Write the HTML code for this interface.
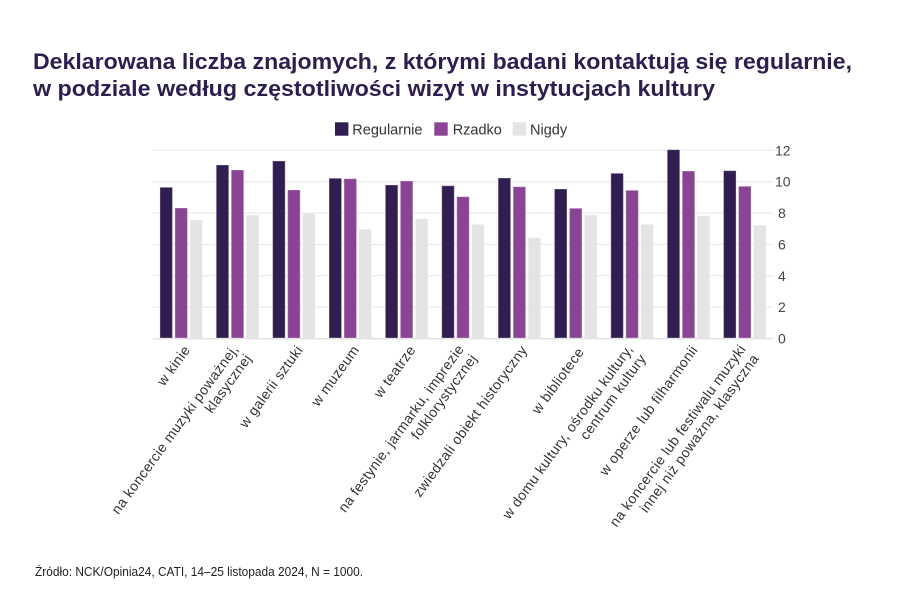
<!DOCTYPE html>
<html>
<head>
<meta charset="utf-8">
<style>
  html, body { margin: 0; padding: 0; background: #ffffff; }
  svg { display: block; }
  text { font-family: "Liberation Sans", "DejaVu Sans", sans-serif; }
</style>
</head>
<body>
<svg width="900" height="600" viewBox="0 0 900 600" xmlns="http://www.w3.org/2000/svg">
  <rect x="0" y="0" width="900" height="600" fill="#ffffff"/>

  <!-- Title -->
  <text x="33" y="69" font-size="22.5" font-weight="bold" fill="#2e1e4f" textLength="819" lengthAdjust="spacingAndGlyphs">Deklarowana liczba znajomych, z którymi badani kontaktują się regularnie,</text>
  <text x="33" y="96" font-size="22.5" font-weight="bold" fill="#2e1e4f" textLength="682" lengthAdjust="spacingAndGlyphs">w podziale według częstotliwości wizyt w instytucjach kultury</text>

  <!-- Legend -->
  <rect x="335" y="122.3" width="13.4" height="13.4" fill="#301e50"/>
  <text x="352.3" y="134.3" font-size="14.5" fill="#333">Regularnie</text>
  <rect x="434.3" y="122.3" width="13.4" height="13.4" fill="#8a4494"/>
  <text x="452.7" y="134.3" font-size="14.5" fill="#333">Rzadko</text>
  <rect x="512.7" y="122.3" width="13.4" height="13.4" fill="#e4e4e4"/>
  <text x="530" y="134.3" font-size="14.5" fill="#333">Nigdy</text>

  <!-- Gridlines -->
  <g stroke="#e6e6e6" stroke-width="1">
    <line x1="153" y1="150.3" x2="773" y2="150.3"/>
    <line x1="153" y1="181.7" x2="773" y2="181.7"/>
    <line x1="153" y1="213.0" x2="773" y2="213.0"/>
    <line x1="153" y1="244.4" x2="773" y2="244.4"/>
    <line x1="153" y1="275.8" x2="773" y2="275.8"/>
    <line x1="153" y1="307.1" x2="773" y2="307.1"/>
  </g>

  <!-- Y tick labels -->
  <g font-size="14" fill="#444">
    <text x="775" y="155.3">12</text>
    <text x="775" y="186.7">10</text>
    <text x="778" y="218.0">8</text>
    <text x="778" y="249.4">6</text>
    <text x="778" y="280.8">4</text>
    <text x="778" y="312.1">2</text>
    <text x="778" y="343.3">0</text>
  </g>

  <!-- Bars -->
  <g stroke="rgba(255,255,255,0.3)" stroke-width="1">
    <!-- G1 c=181.2 -->
    <rect x="159.95" y="187.3" width="12.5" height="151" fill="#301e50"/>
    <rect x="174.95" y="208" width="12.5" height="130.3" fill="#8a4494"/>
    <rect x="189.95" y="220" width="12.5" height="118.3" fill="#e4e4e4"/>
    <!-- G2 c=237.5 -->
    <rect x="216.25" y="165" width="12.5" height="173.3" fill="#301e50"/>
    <rect x="231.25" y="170" width="12.5" height="168.3" fill="#8a4494"/>
    <rect x="246.25" y="215" width="12.5" height="123.3" fill="#e4e4e4"/>
    <!-- G3 c=293.9 -->
    <rect x="272.65" y="161" width="12.5" height="177.3" fill="#301e50"/>
    <rect x="287.65" y="190" width="12.5" height="148.3" fill="#8a4494"/>
    <rect x="302.65" y="213.3" width="12.5" height="125" fill="#e4e4e4"/>
    <!-- G4 c=350.3 -->
    <rect x="329.05" y="178.3" width="12.5" height="160" fill="#301e50"/>
    <rect x="344.05" y="178.7" width="12.5" height="159.6" fill="#8a4494"/>
    <rect x="359.05" y="229.3" width="12.5" height="109" fill="#e4e4e4"/>
    <!-- G5 c=406.6 -->
    <rect x="385.35" y="185" width="12.5" height="153.3" fill="#301e50"/>
    <rect x="400.35" y="181" width="12.5" height="157.3" fill="#8a4494"/>
    <rect x="415.35" y="218.7" width="12.5" height="119.6" fill="#e4e4e4"/>
    <!-- G6 c=463.0 -->
    <rect x="441.75" y="185.7" width="12.5" height="152.6" fill="#301e50"/>
    <rect x="456.75" y="196.7" width="12.5" height="141.6" fill="#8a4494"/>
    <rect x="471.75" y="224.3" width="12.5" height="114" fill="#e4e4e4"/>
    <!-- G7 c=519.4 -->
    <rect x="498.15" y="178" width="12.5" height="160.3" fill="#301e50"/>
    <rect x="513.15" y="186.7" width="12.5" height="151.6" fill="#8a4494"/>
    <rect x="528.15" y="237.7" width="12.5" height="100.6" fill="#e4e4e4"/>
    <!-- G8 c=575.7 -->
    <rect x="554.45" y="189" width="12.5" height="149.3" fill="#301e50"/>
    <rect x="569.45" y="208.3" width="12.5" height="130" fill="#8a4494"/>
    <rect x="584.45" y="215" width="12.5" height="123.3" fill="#e4e4e4"/>
    <!-- G9 c=632.1 -->
    <rect x="610.85" y="173.3" width="12.5" height="165" fill="#301e50"/>
    <rect x="625.85" y="190.3" width="12.5" height="148" fill="#8a4494"/>
    <rect x="640.85" y="224.3" width="12.5" height="114" fill="#e4e4e4"/>
    <!-- G10 c=688.5 -->
    <rect x="667.25" y="149.7" width="12.5" height="188.6" fill="#301e50"/>
    <rect x="682.25" y="171" width="12.5" height="167.3" fill="#8a4494"/>
    <rect x="697.25" y="215.7" width="12.5" height="122.6" fill="#e4e4e4"/>
    <!-- G11 c=744.8 -->
    <rect x="723.55" y="170.7" width="12.5" height="167.6" fill="#301e50"/>
    <rect x="738.55" y="186.3" width="12.5" height="152" fill="#8a4494"/>
    <rect x="753.55" y="225.3" width="12.5" height="113" fill="#e4e4e4"/>
  </g>

  <!-- Axis line -->
  <line x1="153" y1="338.6" x2="773" y2="338.6" stroke="#e2e2e2" stroke-width="1.5"/>

  <!-- X labels -->
  <g font-size="14" fill="#333" text-anchor="end" letter-spacing="0.4">
    <text transform="translate(187.4,347.4) rotate(-54)" dy="0.3em">w kinie</text>

    <text transform="translate(235.7,346.5) rotate(-54)" dy="0.3em">na koncercie muzyki poważnej,</text>
    <text transform="translate(248.7,356) rotate(-54)" dy="0.3em">klasycznej</text>

    <text transform="translate(300.1,347.4) rotate(-54)" dy="0.3em">w galerii sztuki</text>
    <text transform="translate(356.5,347.4) rotate(-54)" dy="0.3em">w muzeum</text>
    <text transform="translate(412.8,347.4) rotate(-54)" dy="0.3em">w teatrze</text>

    <text transform="translate(461.2,346.5) rotate(-54)" dy="0.3em">na festynie, jarmarku, imprezie</text>
    <text transform="translate(474.2,356) rotate(-54)" dy="0.3em">folklorystycznej</text>

    <text transform="translate(524.4,347.4) rotate(-54)" dy="0.3em">zwiedzali obiekt historyczny</text>
    <text transform="translate(581.2,349.5) rotate(-54)" dy="0.3em">w bibliotece</text>

    <text transform="translate(630.3,346.5) rotate(-54)" dy="0.3em">w domu kultury, ośrodku kultury,</text>
    <text transform="translate(643.3,356) rotate(-54)" dy="0.3em">centrum kultury</text>

    <text transform="translate(694.9,347.4) rotate(-54)" dy="0.3em">w operze lub filharmonii</text>

    <text transform="translate(743,346.5) rotate(-54)" dy="0.3em">na koncercie lub festiwalu muzyki</text>
    <text transform="translate(756,356) rotate(-54)" dy="0.3em">innej niż poważna, klasyczna</text>
  </g>

  <!-- Footer -->
  <text x="35" y="576" font-size="12.5" fill="#222" textLength="328" lengthAdjust="spacingAndGlyphs">Źródło: NCK/Opinia24, CATI, 14–25 listopada 2024, N = 1000.</text>
</svg>
</body>
</html>
